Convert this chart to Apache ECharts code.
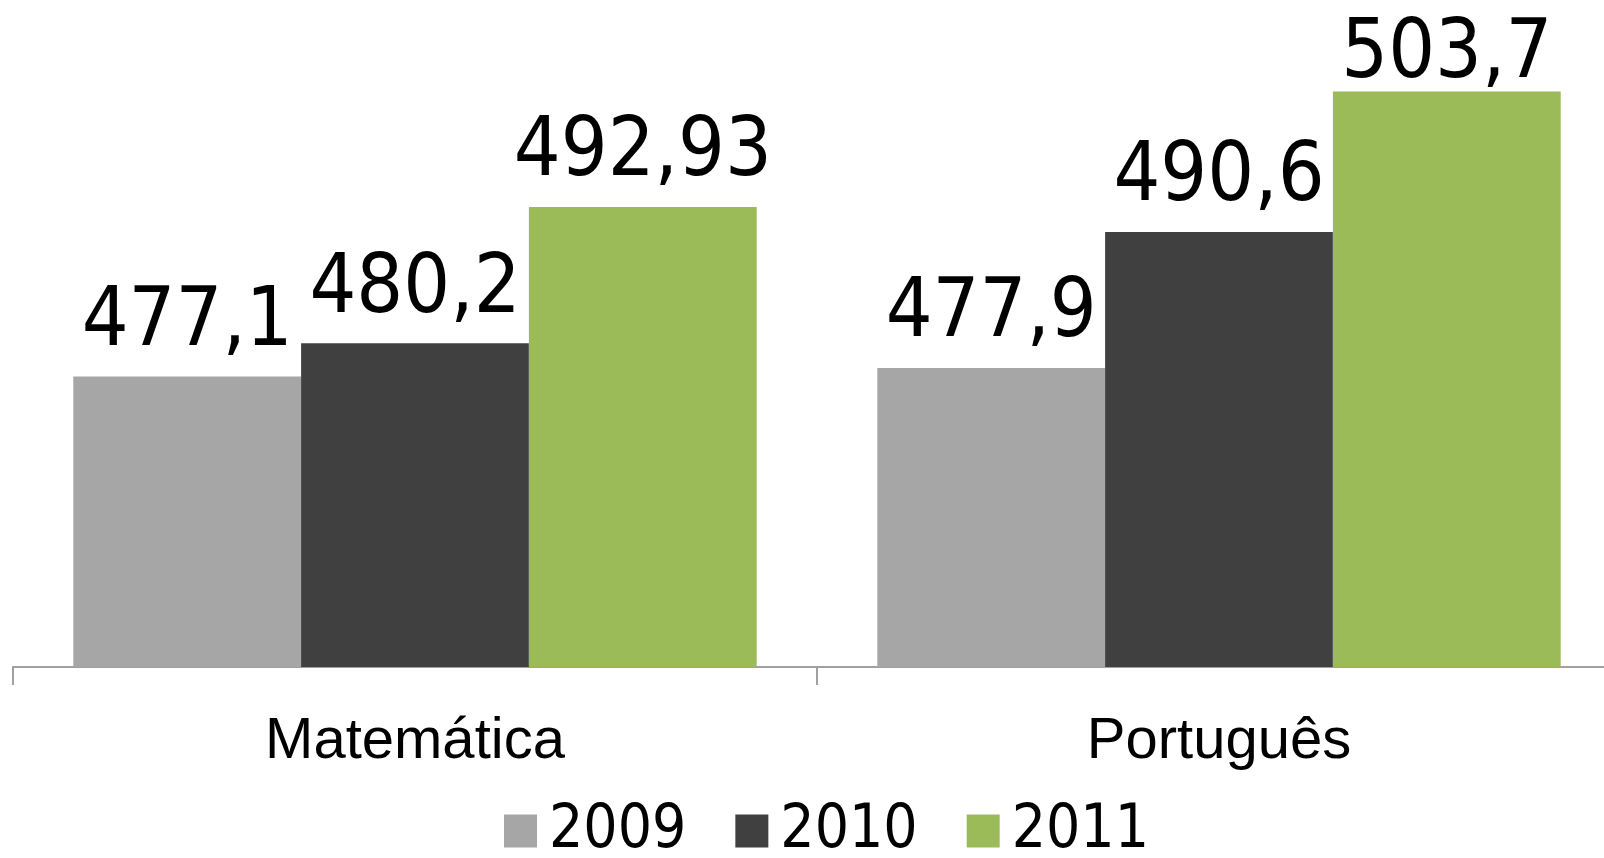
<!DOCTYPE html>
<html>
<head>
<meta charset="utf-8">
<script src="https://cdn.jsdelivr.net/npm/echarts@6/dist/echarts.min.js"></script>
<style>
  html, body { margin: 0; padding: 0; background: #fff; overflow: hidden; }
  /* a área do gráfico passa um pouco da borda direita, como no original */
  #chart { width: 1621px; height: 858px; }
</style>
</head>
<body>
<div id="chart"></div>
<script>
// disciplinas e notas por ano
const categories = ['Matemática', 'Português']
const years = ['2009', '2010', '2011']
const values2009 = [477.1, 477.9]
const values2010 = [480.2, 490.6]
const values2011 = [492.93, 503.7]
const colors = ['#A6A6A6', '#404040', '#9BBB59']

const narrowFont = '"Liberation Sans Narrow", "DejaVu Sans Condensed", sans-serif'

const chart = echarts.init(document.getElementById('chart'))

const makeSeries = (name, data, color) => ({
  name: name,
  type: 'bar',
  data: data,
  barGap: 0,
  barCategoryGap: '15%',
  itemStyle: { color: color },
  label: {
    show: true,
    position: 'top',
    distance: 12,
    color: '#000',
    fontSize: 82,
    fontFamily: narrowFont,
    formatter: p => String(p.value).replace('.', ',')
  },
  // rótulo que sairia da área visível desce um pouco
  labelLayout: params => (params.labelRect.y < 8 ? { dy: 17 } : {})
})

const option = {
  animation: false,
  grid: { left: 13, right: 0, top: 24, bottom: 191, containLabel: false },
  legend: {
    top: 796,
    left: 499,
    itemWidth: 33,
    itemHeight: 33,
    itemGap: 49,
    icon: 'rect',
    textStyle: { fontSize: 60, fontFamily: narrowFont, color: '#000', padding: [0, 0, 0, 7] },
    data: years
  },
  xAxis: {
    type: 'category',
    data: categories,
    axisLine: { lineStyle: { color: '#A0A0A0', width: 2 } },
    axisTick: { show: true, length: 18, lineStyle: { color: '#A0A0A0', width: 2 } },
    axisLabel: { fontSize: 58, fontFamily: '"Liberation Sans", Arial, sans-serif', color: '#000', margin: 46 }
  },
  yAxis: {
    type: 'value',
    min: 450,
    max: 510,
    show: false,
    splitLine: { show: false }
  },
  series: [
    makeSeries(years[0], values2009, colors[0]),
    makeSeries(years[1], values2010, colors[1]),
    makeSeries(years[2], values2011, colors[2])
  ]
}

chart.setOption(option)
</script>
</body>
</html>
